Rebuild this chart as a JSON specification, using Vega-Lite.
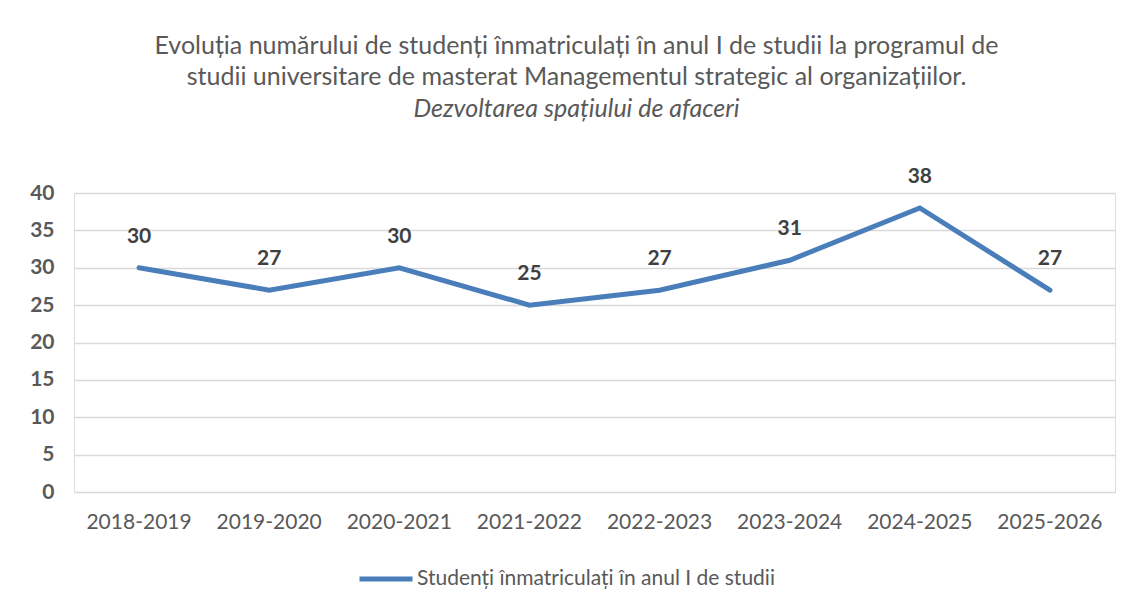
{
  "$schema": "https://vega.github.io/schema/vega-lite/v6.json",
  "width": 1041,
  "height": 299,
  "autosize": {"type": "none"},
  "padding": {"left": 74, "top": 193, "right": 14, "bottom": 116},
  "background": "white",
  "title": {
    "text": ["Evoluția numărului de studenți înmatriculați în anul I de studii la programul de", "studii universitare de masterat Managementul strategic al organizațiilor."],
    "subtitle": "Dezvoltarea spațiului de afaceri",
    "font": "Lato",
    "fontSize": 25,
    "fontWeight": "normal",
    "color": "#595959",
    "lineHeight": 31,
    "subtitleFont": "Lato",
    "subtitleFontSize": 25,
    "subtitleFontStyle": "italic",
    "subtitleColor": "#595959",
    "subtitlePadding": 7,
    "anchor": "middle",
    "dx": -18,
    "offset": 44
  },
  "data": {
    "values": [
      {"an": "2018-2019", "studenti": 30, "serie": "Studenți înmatriculați în anul I de studii"},
      {"an": "2019-2020", "studenti": 27, "serie": "Studenți înmatriculați în anul I de studii"},
      {"an": "2020-2021", "studenti": 30, "serie": "Studenți înmatriculați în anul I de studii"},
      {"an": "2021-2022", "studenti": 25, "serie": "Studenți înmatriculați în anul I de studii"},
      {"an": "2022-2023", "studenti": 27, "serie": "Studenți înmatriculați în anul I de studii"},
      {"an": "2023-2024", "studenti": 31, "serie": "Studenți înmatriculați în anul I de studii"},
      {"an": "2024-2025", "studenti": 38, "serie": "Studenți înmatriculați în anul I de studii"},
      {"an": "2025-2026", "studenti": 27, "serie": "Studenți înmatriculați în anul I de studii"}
    ]
  },
  "encoding": {
    "x": {
      "field": "an", "type": "ordinal", "title": null,
      "scale": {"type": "band", "paddingInner": 0, "paddingOuter": 0},
      "axis": {"labelAngle": 0, "labelFont": "Lato", "labelFontSize": 21, "labelColor": "#595959", "ticks": false, "domain": false, "grid": false, "labelPadding": 19}
    },
    "y": {
      "field": "studenti", "type": "quantitative", "title": null,
      "scale": {"domain": [0, 40]},
      "axis": {"values": [0,5,10,15,20,25,30,35,40], "labelFont": "Lato", "labelFontSize": 21, "labelFontWeight": "bold", "labelColor": "#595959", "ticks": false, "domain": false, "gridColor": "#d9d9d9", "gridWidth": 1.5, "labelPadding": 20}
    }
  },
  "layer": [
    {
      "mark": {"type": "line", "strokeWidth": 5, "strokeCap": "round", "strokeJoin": "miter"},
      "encoding": {
        "color": {
          "field": "serie", "type": "nominal", "title": null,
          "scale": {"range": ["#4a7ebb"]},
          "legend": {"orient": "none", "legendX": 283, "legendY": 357, "direction": "horizontal", "symbolType": "stroke", "symbolSize": 2809, "symbolStrokeWidth": 5, "labelFont": "Lato", "labelFontSize": 21, "labelColor": "#595959", "labelLimit": 600, "labelOffset": 2}
        }
      }
    },
    {
      "mark": {"type": "text", "font": "Lato", "fontSize": 21, "fontWeight": "bold", "color": "#404040", "dy": -31, "baseline": "middle"},
      "encoding": {"text": {"field": "studenti", "type": "quantitative"}}
    }
  ]
}
